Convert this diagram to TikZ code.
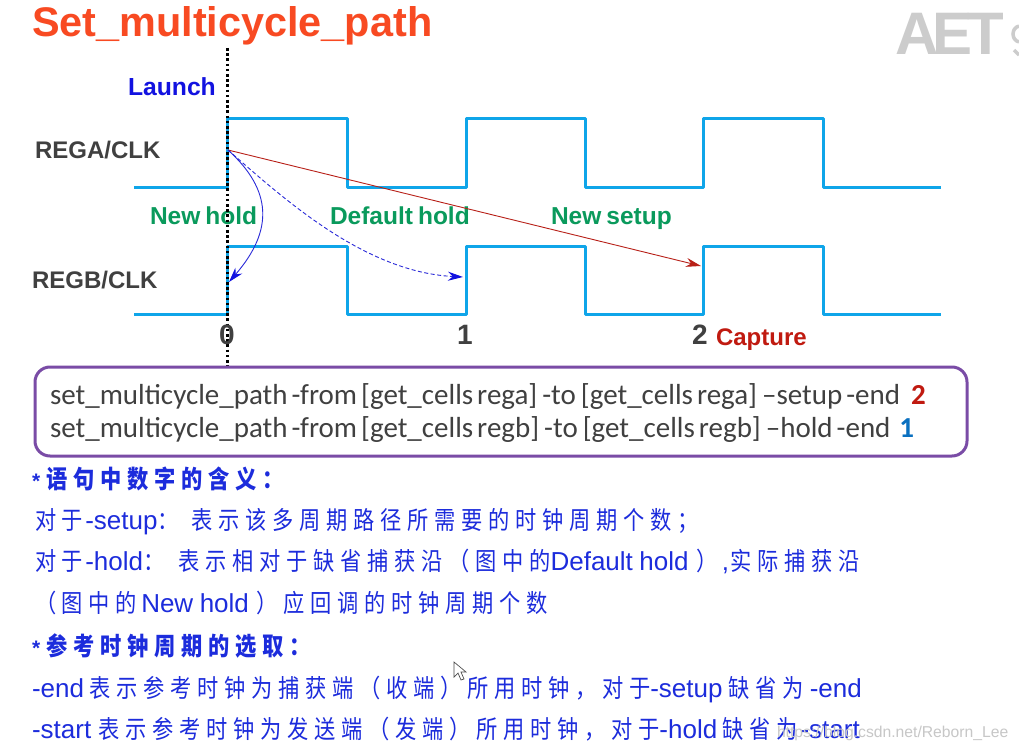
\documentclass[tikz,border=0pt]{standalone}
\usepackage{fontspec}
\setmainfont{Liberation Sans}
\newfontfamily\cjk[LetterSpace=23,FakeStretch=0.85]{Noto Sans CJK SC}
\newfontfamily\codefont{Carlito}
\usetikzlibrary{arrows.meta}
\definecolor{clk}{HTML}{0FA5E9}
\definecolor{txtblue}{HTML}{1C2CDC}
\definecolor{lblue}{HTML}{1212E0}
\definecolor{grn}{HTML}{0A9A5C}
\definecolor{dark}{HTML}{404040}
\definecolor{capred}{HTML}{C01A10}
\definecolor{ttl}{HTML}{F84A22}
\definecolor{boxc}{HTML}{7A4CA6}
\definecolor{arrred}{HTML}{B82018}
\definecolor{arrblue}{HTML}{2A2AD8}
\newcommand{\Zh}[1]{{\fontsize{25}{29}\cjk #1}}
\newcommand{\Ws}{\hspace{5pt}}
\newcommand{\Cs}{\hspace{4pt}}
\newcommand{\Ls}{\hspace{6.5pt}}
\tikzset{
  x=1pt,y=-1pt,
  lab/.style={anchor=base west,inner sep=0pt,outer sep=0pt},
  sig/.style={lab,font=\fontsize{24}{28}\selectfont\bfseries,text=dark},
  hold/.style={lab,font=\fontsize{24.5}{28}\selectfont\bfseries,text=grn},
  tick/.style={lab,font=\fontsize{28}{32}\selectfont\bfseries,text=dark},
  code/.style={lab,font=\fontsize{29}{33}\codefont,text=dark},
  zhline/.style={lab,font=\fontsize{26}{30}\selectfont,text=txtblue},
  clock/.style={draw=clk,line width=3pt,line join=round},
  flow/.style={line width=0.9pt},
}
\begin{document}
\begin{tikzpicture}
\useasboundingbox (0,0) rectangle (1019,749);
\fill[white] (0,0) rectangle (1019,749);
\clip (0,0) rectangle (1019,749);
% logo
\node[lab,text=black!20,font=\fontsize{60}{60}\selectfont\bfseries] (logo) at (895,55) {A\kern-6pt E\kern-5pt T};
\draw[black!20,line width=3.5pt] (1019,26) .. controls (1011,28) and (1011,40) .. (1019,42);
\draw[black!20,line width=3.5pt] (1014,50) -- (1019,55);
% title
\node[lab,text=ttl,font=\fontsize{41.4}{46}\selectfont\bfseries] (title) at (32,36.5) {Set\_multicycle\_path};
% clocks
\draw[clock] (134,187) -- (227,187) -- (227,119) -- (347,119) -- (347,187) -- (466,187) -- (466,119) -- (585,119) -- (585,187) -- (703,187) -- (703,119) -- (823,119) -- (823,187) -- (941,187);
\draw[clock] (134,314) -- (227,314) -- (227,246) -- (347,246) -- (347,314) -- (466,314) -- (466,246) -- (585,246) -- (585,314) -- (703,314) -- (703,246) -- (823,246) -- (823,314) -- (941,314);
% labels under
\node[hold] (nh) at (150,224) {New\Ws hold};
\node[hold] (dh) at (330,224) {Default\Ws hold};
\node[hold] (ns) at (551,224) {New\Ws setup};
% dotted
\coordinate (dtop) at (227.5,48);
\coordinate (dbot) at (227.5,366);
\draw[black,line width=2.6pt,dash pattern=on 2.6pt off 2.6pt] (dtop) -- (dbot);
% arrows
\coordinate (launch) at (228,150);
\coordinate (capB) at (701,266);
\coordinate (defB) at (463,277);
\coordinate (newB) at (229,282);
\draw[flow,draw=arrred,-{Stealth[length=15pt,width=9pt,color=arrred]}] (launch) -- (capB);
\draw[flow,draw=arrblue,dash pattern=on 4pt off 2.5pt,-{Stealth[length=15pt,width=9pt,color=lblue]}] (launch) .. controls (285,200) and (365,272) .. (defB);
\draw[flow,draw=arrblue,-{Stealth[length=15pt,width=9pt,color=lblue]}] (launch) .. controls (272,190) and (274,230) .. (newB);
% labels
\node[lab,text=lblue,font=\fontsize{24.7}{28}\selectfont\bfseries] (launchl) at (128,96) {Launch};
\node[sig] (rega) at (35,158) {REGA/CLK};
\node[sig] (regb) at (32,288) {REGB/CLK};
\node[tick] (t0) at (219,344) {0};
\node[tick] (t1) at (457,344) {1};
\node[tick] (t2) at (692,344) {2};
\node[lab,text=capred,font=\fontsize{24}{28}\selectfont\bfseries] (cap) at (716,345) {Capture};
% box
\node[draw=boxc,line width=3pt,rounded corners=15pt,minimum width=932pt,minimum height=89pt,anchor=north west,inner sep=0pt,outer sep=0pt] (box) at (35,367) {};
\node[code] (c1) at (50,404) {set\_multicycle\_path\Cs-from\Cs[get\_cells\Cs rega]\Ws-to\Ws[get\_cells\Cs rega]\Ws–setup\Cs-end\hspace{11pt}\textcolor{capred}{\bfseries 2}};
\node[code] (c2) at (50,437) {set\_multicycle\_path\Cs-from\Cs[get\_cells\Cs regb]\Ws-to\Ws[get\_cells\Cs regb]\Ws–hold\Cs-end\hspace{9pt}\textcolor[HTML]{0A70C0}{\bfseries 1}};
% chinese
\node[zhline] (z1) at (32,488) {\fontsize{21}{25}\selectfont\bfseries *\kern6pt\Zh{语句中数字的含义：}};
\node[zhline] (z2) at (35,529) {\Zh{对于}\kern2pt -setup\Zh{：}\kern13pt\Zh{表示该多周期路径所需要的时钟周期个数；}};
\node[zhline] (z3) at (35,570.5) {\Zh{对于}\kern2pt -hold\Zh{：}\kern14pt\Zh{表示相对于缺省捕获沿（图中的}Default\Ls hold\kern8pt\Zh{）}\kern4pt,\kern1pt\Zh{实际捕获沿}};
\node[zhline] (z4) at (35,612.5) {\Zh{（图中的}\kern4pt New\Ls hold\kern8pt\Zh{）应回调的时钟周期个数}};
\node[zhline] (z5) at (32,655) {\fontsize{21}{25}\selectfont\bfseries *\kern6pt\Zh{参考时钟周期的选取：}};
\node[zhline] (z6) at (32,697) {-end\kern5pt\Zh{表示参考时钟为捕获端（收端）所用时钟，对于}-setup\kern6pt\Zh{缺省为}\kern6pt -end};
\node[zhline] (z7) at (32,738.5) {-start\kern7pt\Zh{表示参考时钟为发送端（发端）所用时钟，对于}-hold\kern5pt\Zh{缺省为}\kern3pt -start};
% watermark
\node[lab,text=black!22,font=\fontsize{15.7}{20}\selectfont] (wm) at (777,737) {https://blog.csdn.net/Reborn\_Lee};
% cursor
\draw[black!70,fill=white,line width=0.7pt] (454,662) -- (454,677) -- (458,673) -- (461,680) -- (464,679) -- (461,672) -- (466,672) -- cycle;
\end{tikzpicture}
\end{document}
